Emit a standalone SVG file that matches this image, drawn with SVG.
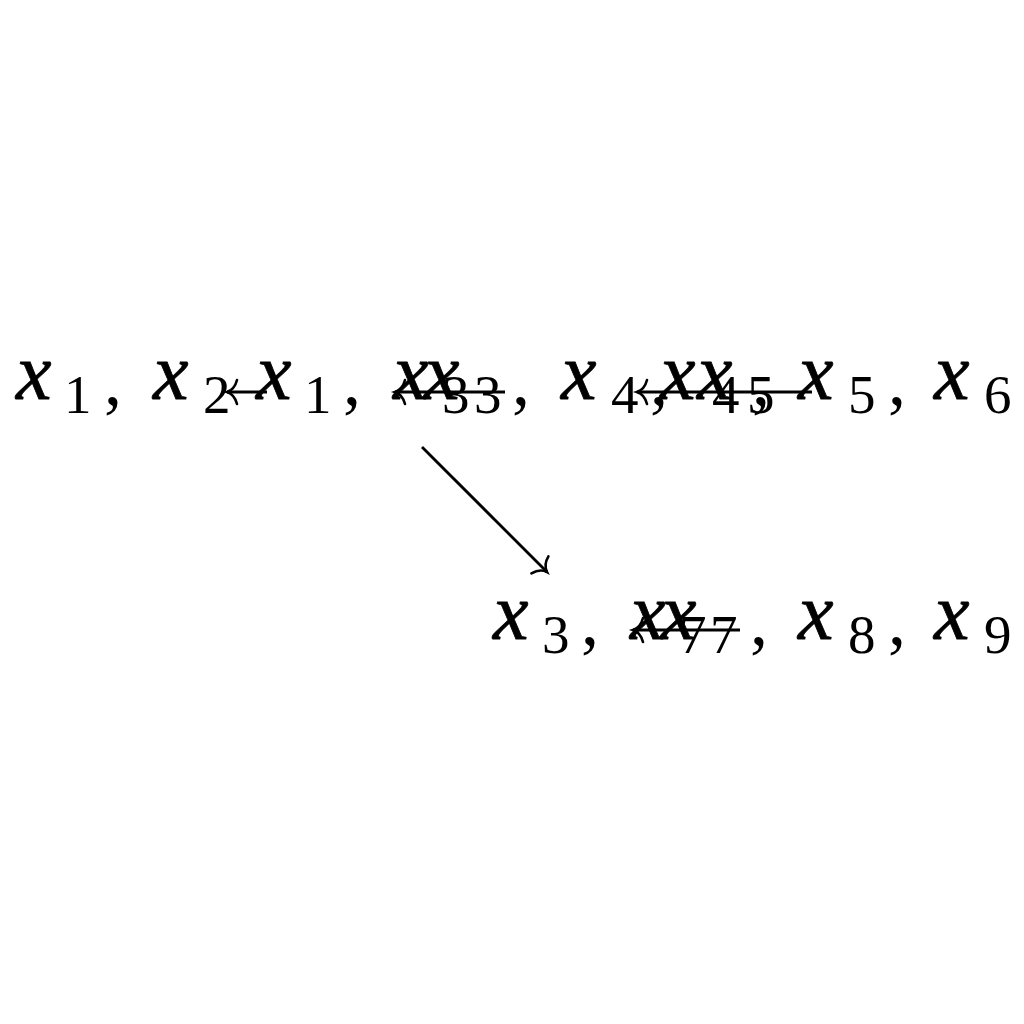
<svg xmlns="http://www.w3.org/2000/svg" width="1024" height="1024" viewBox="0 0 1024 1024">
<style>
.v{font-family:"Liberation Serif","Times New Roman",serif;font-style:italic;font-size:80px;fill:#000;stroke:#000;stroke-width:0.8}
.s{font-family:"Liberation Serif","Times New Roman",serif;font-size:55px;fill:#000}
.c{font-family:"Liberation Serif","Times New Roman",serif;font-size:72px;fill:#000}
.a{fill:none;stroke:#000;stroke-width:2.9}
</style>
<defs>
<marker id="hd" markerUnits="userSpaceOnUse" markerWidth="30" markerHeight="30" viewBox="-15 -15 30 30" refX="0" refY="0" orient="auto" overflow="visible">
<path d="M -10,-12 C -8,-4 -3,-1 0,0 C -3,1 -8,4 -10,12" fill="none" stroke="#000" stroke-width="2.6" stroke-linecap="round"/>
</marker>
</defs>
<rect width="1024" height="1024" fill="#fff"/>
<g id="n1">
<text class="v" x="16" y="399">x</text><text class="s" x="64" y="413">1</text><text class="c" x="104" y="404">,</text>
<text class="v" x="153" y="399">x</text><text class="s" x="203" y="413">2</text>
</g>
<g id="n2">
<text class="v" x="256" y="399">x</text><text class="s" x="304" y="413">1</text><text class="c" x="343" y="404">,</text>
<text class="v" x="393" y="399">x</text><text class="s" x="442" y="413">3</text>
</g>
<g id="n3">
<text class="v" x="424" y="399">x</text><text class="s" x="474" y="413">3</text><text class="c" x="512" y="404">,</text>
<text class="v" x="561" y="399">x</text><text class="s" x="611" y="413">4</text><text class="c" x="650" y="404">,</text>
<text class="v" x="697" y="399">x</text><text class="s" x="747" y="413">5</text>
</g>
<g id="n4">
<text class="v" x="660" y="399">x</text><text class="s" x="712" y="413">4</text><text class="c" x="752" y="404">,</text>
<text class="v" x="798" y="399">x</text><text class="s" x="848" y="413">5</text><text class="c" x="888" y="404">,</text>
<text class="v" x="934" y="399">x</text><text class="s" x="984" y="413">6</text>
</g>
<g id="n5">
<text class="v" x="493" y="639">x</text><text class="s" x="542" y="653">3</text><text class="c" x="581" y="644">,</text>
<text class="v" x="630" y="639">x</text><text class="s" x="679" y="653">7</text>
</g>
<g id="n6">
<text class="v" x="661" y="639">x</text><text class="s" x="710" y="653">7</text><text class="c" x="750" y="644">,</text>
<text class="v" x="798" y="639">x</text><text class="s" x="848" y="653">8</text><text class="c" x="888" y="644">,</text>
<text class="v" x="934" y="639">x</text><text class="s" x="984" y="653">9</text>
</g>
<g id="edges">
<path class="a" d="M 267,392 L 227,392" marker-end="url(#hd)"/>
<path class="a" d="M 505,392 L 395,392" marker-end="url(#hd)"/>
<path class="a" d="M 812,392 L 637,392" marker-end="url(#hd)"/>
<path class="a" d="M 740,630 L 633,630" marker-end="url(#hd)"/>
<path class="a" d="M 422,447 L 547,572" marker-end="url(#hd)"/>
</g>
</svg>
